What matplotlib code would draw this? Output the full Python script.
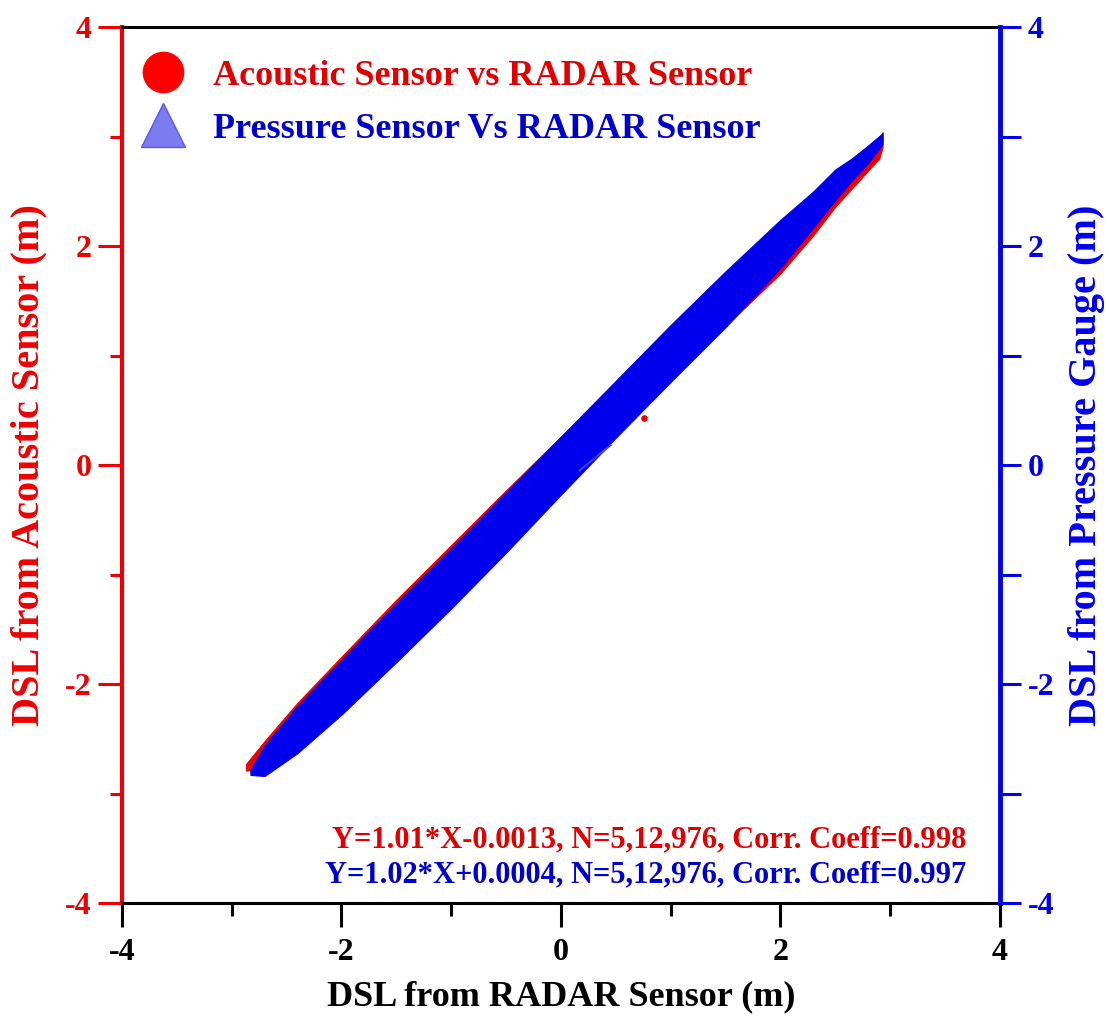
import numpy as np
import matplotlib.pyplot as plt
from matplotlib.lines import Line2D

# band edges (m): acoustic vs radar (red) and pressure vs radar (blue)
radar_red = [-2.87, -2.7, -2.4, -2.0, -1.5, -1.0, -0.5, 0.0, 0.5, 1.0, 1.5, 2.0, 2.3, 2.5, 2.7, 2.9, 2.93]
acoustic_hi = [-2.73, -2.52, -2.17, -1.75, -1.23, -0.73, -0.23, 0.26, 0.74, 1.24, 1.73, 2.20, 2.45, 2.62, 2.80, 2.97, 3.04]
acoustic_lo = [-2.79, -2.78, -2.58, -2.22, -1.74, -1.24, -0.74, -0.22, 0.28, 0.78, 1.27, 1.75, 2.10, 2.36, 2.58, 2.80, 2.90]

radar_blue = [-2.83, -2.7, -2.4, -2.0, -1.5, -1.0, -0.5, 0.0, 0.5, 1.0, 1.5, 2.0, 2.3, 2.5, 2.65, 2.8, 2.93]
pressure_hi = [-2.78, -2.56, -2.20, -1.78, -1.26, -0.76, -0.25, 0.26, 0.77, 1.28, 1.77, 2.24, 2.50, 2.70, 2.80, 2.92, 3.03]
pressure_lo = [-2.83, -2.84, -2.63, -2.28, -1.80, -1.31, -0.80, -0.27, 0.25, 0.76, 1.26, 1.80, 2.17, 2.42, 2.60, 2.76, 2.93]

# stray points
red_out_x = [0.756]
red_out_y = [0.426]
blue_spike_x = [0.17, 0.45]
blue_spike_y = [-0.05, 0.18]

eq_red = "Y=1.01*X-0.0013, N=5,12,976, Corr. Coeff=0.998"
eq_blue = "Y=1.02*X+0.0004, N=5,12,976, Corr. Coeff=0.997"

red = '#ee0000'
blue = '#0000ee'

plt.rcParams['font.family'] = 'serif'
plt.rcParams['font.serif'] = ['Liberation Serif', 'DejaVu Serif']
plt.rcParams['font.weight'] = 'bold'
plt.rcParams['axes.labelweight'] = 'bold'
plt.rcParams['axes.unicode_minus'] = False

fig = plt.figure(figsize=(11.09, 10.16), dpi=100)
ax = fig.add_axes([0.110, 0.1112, 0.7917, 0.8622])
ax2 = ax.twinx()

ax.fill_between(radar_red, acoustic_lo, acoustic_hi, color=red, lw=0.8, zorder=2)
ax.scatter(red_out_x, red_out_y, s=14, color=red, zorder=2)
ax2.fill_between(radar_blue, pressure_lo, pressure_hi, color=blue, lw=0.8, zorder=2)
ax2.plot(blue_spike_x, blue_spike_y, color='#4040e0', lw=1.5)

for a in (ax, ax2):
    a.set_xlim(-4, 4)
    a.set_ylim(-4, 4)
    a.set_yticks([-4, -2, 0, 2, 4])
    a.set_yticks([-3, -1, 1, 3], minor=True)
ax.set_xticks([-4, -2, 0, 2, 4])
ax.set_xticks([-3, -1, 1, 3], minor=True)

# spines
ax.spines['left'].set_color(red)
ax.spines['left'].set_linewidth(3.0)
ax.spines['right'].set_visible(False)
ax.spines['top'].set_linewidth(2.2)
ax.spines['bottom'].set_linewidth(2.2)
ax2.spines['right'].set_color(blue)
ax2.spines['right'].set_linewidth(3.5)
for s in ('left', 'top', 'bottom'):
    ax2.spines[s].set_visible(False)

ax.tick_params(axis='y', which='major', direction='out', length=17, width=2.2, colors=red, labelsize=23, pad=5)
ax.tick_params(axis='y', which='minor', direction='out', length=9, width=2.2, colors=red)
ax.tick_params(axis='x', which='major', direction='out', length=17, width=2.2, labelsize=23, pad=8)
ax.tick_params(axis='x', which='minor', direction='out', length=9, width=2.2)
ax2.tick_params(axis='y', which='both', direction='out', length=15, width=2.2, colors=blue, labelsize=23, pad=5)

ax.set_xlabel("DSL from RADAR Sensor (m)", fontsize=26)
ax.set_ylabel("DSL from Acoustic Sensor (m)", fontsize=29, color=red)
ax2.set_ylabel("DSL from Pressure Gauge (m)", fontsize=29, color=blue)
ax.xaxis.set_label_coords(0.5, -0.088)
ax.yaxis.set_label_coords(-0.085, 0.5)
ax2.yaxis.set_label_coords(1.077, 0.5)

handles = [Line2D([], [], marker='o', ls='none', ms=29, mfc='#ff0000', mec='#ff0000'),
           Line2D([], [], marker='^', ls='none', ms=31, mfc='#7b7bf2', mec='#5a5ae6')]
ax2.legend(handles, ["Acoustic Sensor vs RADAR Sensor", "Pressure Sensor Vs RADAR Sensor"],
           loc='upper left', bbox_to_anchor=(0.0216, 0.963), frameon=False, borderpad=0,
           borderaxespad=0, handlelength=1.2, handletextpad=0.8, labelspacing=0.55,
           prop={'size': 26, 'weight': 'bold'}, labelcolor=['#e00000', '#0000cc'])

ax.text(0.962, 0.072, eq_red, transform=ax.transAxes, ha='right', va='center',
        fontsize=22, color='#e00000')
ax.text(0.962, 0.032, eq_blue, transform=ax.transAxes, ha='right', va='center',
        fontsize=22, color='#0000cc')

plt.savefig("out.png", dpi=100)
plt.close()
